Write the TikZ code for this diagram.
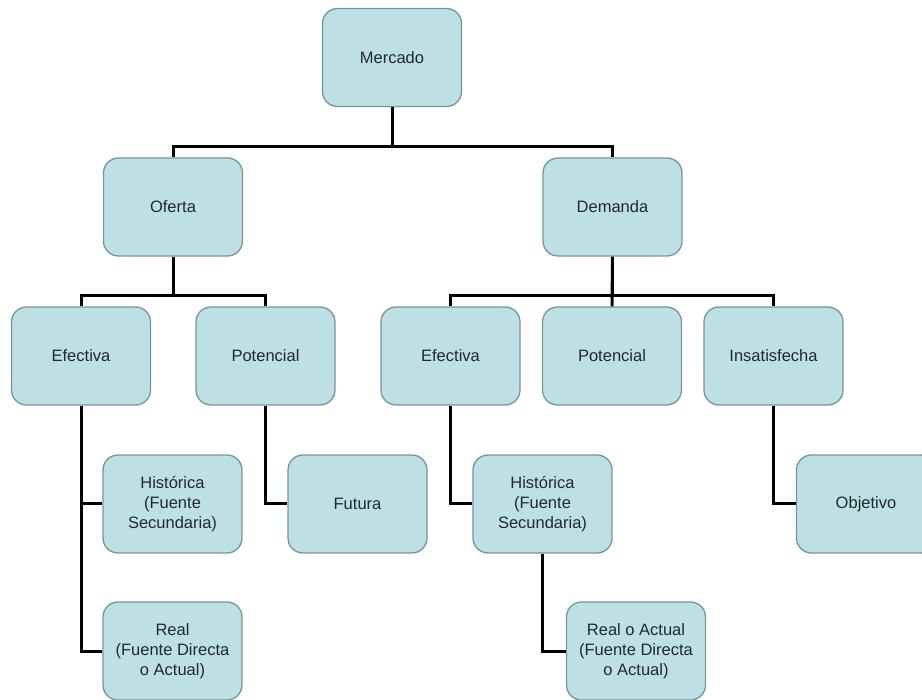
\documentclass[tikz,border=0pt]{standalone}
\usepackage{fontspec}
\setmainfont{Liberation Sans}
\definecolor{boxfill}{HTML}{BCE0E4}
\definecolor{boxline}{HTML}{7A9499}
\definecolor{txt}{HTML}{22292B}
\begin{document}
\begin{tikzpicture}[x=1pt,y=-1pt,
  box/.style={draw=boxline, line width=1.3pt, fill=boxfill, rounded corners=15pt,
    minimum width=139pt, minimum height=98pt, inner sep=0pt, align=center,
    text=txt, font=\fontsize{16.5}{20}\selectfont},
  conn/.style={draw=black, line width=3pt, line join=miter}]
\useasboundingbox (0,0) rectangle (922,700);
\clip (0,0) rectangle (922,700);
% lines first
\node[box] (mer) at (392,57.5) {Mercado};
\node[box] (of) at (173,207) {Oferta};
\node[box] (dem) at (612.5,207) {Demanda};
\node[box] (efL) at (81,356) {Efectiva};
\node[box] (potL) at (265.5,356) {Potencial};
\node[box] (efR) at (450.5,356) {Efectiva};
\node[box] (potR) at (612,356) {Potencial};
\node[box] (ins) at (773.5,356) {Insatisfecha};
\node[box] (hisL) at (172.5,504) {Histórica\\(Fuente\\Secundaria)};
\node[box] (fut) at (357.5,504) {Futura};
\node[box] (hisR) at (542.5,504) {Histórica\\(Fuente\\Secundaria)};
\node[box] (obj) at (866,504) {Objetivo};
\node[box] (realL) at (172.5,651) {Real\\(Fuente Directa\\o Actual)};
\node[box] (realR) at (636,651) {Real o Actual\\(Fuente Directa\\o Actual)};
% connectors
\draw[conn] (mer.south) -- ++(0,39) -| (of.north);
\draw[conn] (mer.south) ++(0,39) -| (dem.north);
\draw[conn] (of.south) -- ++(0,39) -| (efL.north);
\draw[conn] (of.south) ++(0,39) -| (potL.north);
\draw[conn] (dem.south) -- ++(0,39) -| (efR.north);
\draw[conn] (dem.south) ++(0,39) -| (ins.north);
\draw[conn] (dem.south) -- (potR.north);
\draw[conn] (efL.south) |- (realL.west);
\draw[conn] (efL.south |- hisL.west) -- (hisL.west);
\draw[conn] (potL.south) |- (fut.west);
\draw[conn] (efR.south) |- (hisR.west);
\draw[conn] (hisR.south) |- (realR.west);
\draw[conn] (ins.south) |- (obj.west);
\end{tikzpicture}
\end{document}
